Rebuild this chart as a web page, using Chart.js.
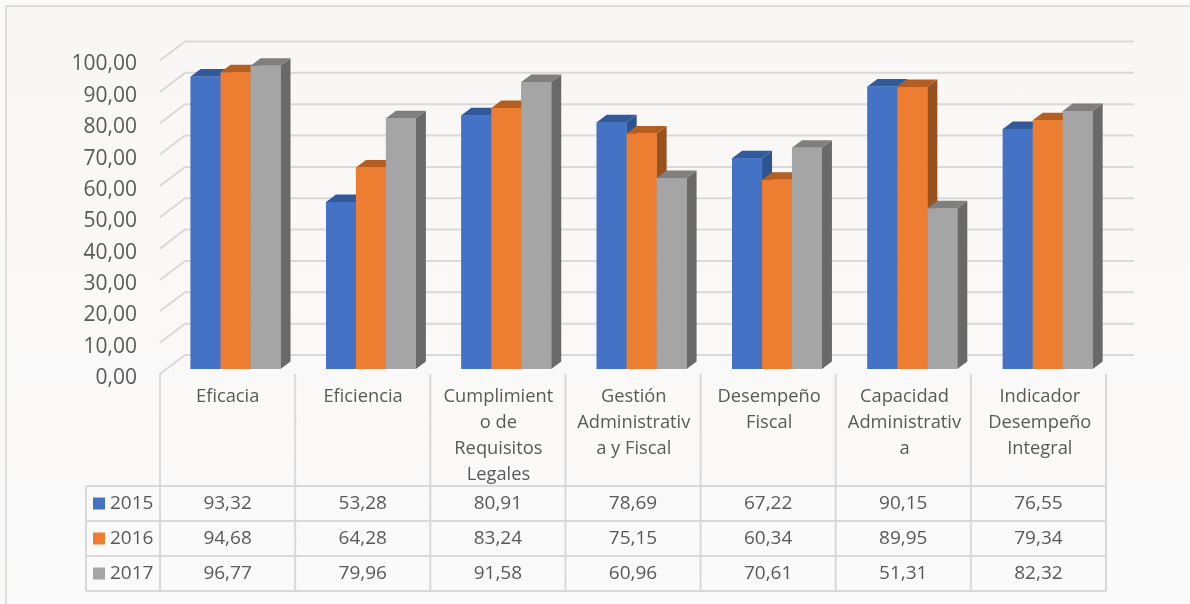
<!DOCTYPE html>
<html>
<head>
<meta charset="utf-8">
<title>Indicadores 2015-2017</title>
<script src="https://cdn.jsdelivr.net/npm/chart.js@4"></script>
<style>
  html, body { margin: 0; padding: 0; background: #fafaf9; overflow: hidden; }
  #wrap { position: relative; width: 1190px; height: 604px; }
  #frame { position: absolute; left: 5px; top: 5px; right: -4px; bottom: -4px;
           border: 2px solid #dedede; background: linear-gradient(#f8f7f5, #fbfafa); }
  canvas { position: absolute; left: 0; top: 0; }
</style>
</head>
<body>
<div id="wrap">
  <div id="frame"></div>
  <canvas id="canvas" width="1190" height="604"></canvas>
</div>
<script>
let categories = [
  ['Eficacia'],
  ['Eficiencia'],
  ['Cumplimient', 'o de', 'Requisitos', 'Legales'],
  ['Gestión', 'Administrativ', 'a y Fiscal'],
  ['Desempeño', 'Fiscal'],
  ['Capacidad', 'Administrativ', 'a'],
  ['Indicador', 'Desempeño', 'Integral']
];
let seriesNames = ['2015', '2016', '2017'];
let values2015 = [93.32, 53.28, 80.91, 78.69, 67.22, 90.15, 76.55];
let values2016 = [94.68, 64.28, 83.24, 75.15, 60.34, 89.95, 79.34];
let values2017 = [96.77, 79.96, 91.58, 60.96, 70.61, 51.31, 82.32];

let frontColors = ['#4472c4', '#ed7d31', '#a5a5a5'];
let topColors   = ['#325a9a', '#b55e22', '#7f7f7f'];
let sideColors  = ['#2e5490', '#97521d', '#696969'];

let textColor = '#595959';
let lineColor = '#d9d9d9';
let fontName = '"Open Sans", sans-serif';

// fake 3d: wall sits behind the front plane, bars sit a bit inside the floor
let wall = { dx: 25, dy: -19 };
let barShift = { dx: 7.9, dy: -5 };
let barDepth = { dx: 10, dy: -7.5 };

function fmt(v) {
  return v.toFixed(2).replace('.', ',');
}

function poly(ctx, color, pts) {
  ctx.fillStyle = color;
  ctx.beginPath();
  pts.forEach((p, i) => i ? ctx.lineTo(p[0], p[1]) : ctx.moveTo(p[0], p[1]));
  ctx.closePath();
  ctx.fill();
}

let wallGrid = {
  id: 'wallGrid',
  beforeDatasetsDraw(chart) {
    let ctx = chart.ctx, x = chart.scales.x, y = chart.scales.y;
    ctx.save();
    ctx.strokeStyle = lineColor;
    ctx.lineWidth = 2;
    y.ticks.forEach(t => {
      let py = y.getPixelForValue(t.value);
      ctx.beginPath();
      ctx.moveTo(x.left, py);
      ctx.lineTo(x.left + wall.dx, py + wall.dy);
      ctx.lineTo(x.right + wall.dx + 1.5, py + wall.dy);
      ctx.stroke();
    });
    ctx.restore();
    // bars are drawn shifted, see bars3d
    ctx.save();
    ctx.translate(barShift.dx, barShift.dy);
  }
};

let bars3d = {
  id: 'bars3d',
  afterDatasetsDraw(chart) {
    let ctx = chart.ctx;
    chart.data.datasets.forEach((ds, i) => {
      chart.getDatasetMeta(i).data.forEach(bar => {
        let l = bar.x - bar.width / 2, r = bar.x + bar.width / 2;
        let t = bar.y, b = bar.base, dx = barDepth.dx, dy = barDepth.dy;
        poly(ctx, sideColors[i], [[r, t], [r + dx, t + dy], [r + dx, b + dy], [r, b]]);
        poly(ctx, topColors[i], [[l, t], [l + dx, t + dy], [r + dx, t + dy], [r, t]]);
        bar.draw(ctx);
      });
    });
    ctx.restore();
  }
};

let dataTable = {
  id: 'dataTable',
  afterDraw(chart) {
    let ctx = chart.ctx, x = chart.scales.x;
    let rows = [486, 521, 556, 591];
    let tableLeft = 86;
    // table comes out a hair narrower than the bars above it
    let cellW = (x.right - x.left - 1.5) / categories.length;
    let tableRight = x.left + cellW * categories.length;
    ctx.save();
    ctx.strokeStyle = lineColor;
    ctx.lineWidth = 2;
    ctx.beginPath();
    rows.forEach(ry => { ctx.moveTo(tableLeft, ry); ctx.lineTo(tableRight, ry); });
    ctx.moveTo(tableLeft, rows[0]); ctx.lineTo(tableLeft, rows[3]);
    for (let i = 0; i <= categories.length; i++) {
      let vx = x.left + i * cellW;
      ctx.moveTo(vx, x.top);
      ctx.lineTo(vx, rows[3]);
    }
    ctx.stroke();

    ctx.font = '19px ' + fontName;
    ctx.textBaseline = 'middle';
    chart.data.datasets.forEach((ds, i) => {
      let midY = (rows[i] + rows[i + 1]) / 2;
      ctx.fillStyle = frontColors[i];
      ctx.fillRect(93, midY - 6, 12, 12);
      ctx.fillStyle = textColor;
      ctx.textAlign = 'left';
      ctx.fillText(seriesNames[i], 110, midY);
      ctx.textAlign = 'center';
      ds.data.forEach((v, j) => {
        ctx.fillText(fmt(v), x.left + (j + 0.5) * cellW, midY);
      });
    });
    ctx.restore();
  }
};

let chart = new Chart(document.getElementById('canvas'), {
  type: 'bar',
  data: {
    labels: categories,
    datasets: seriesNames.map((name, i) => ({
      label: name,
      data: [values2015, values2016, values2017][i],
      backgroundColor: frontColors[i],
      categoryPercentage: 0.664,
      barPercentage: 1.0,
      clip: false
    }))
  },
  options: {
    responsive: false,
    animation: false,
    layout: { padding: { top: 60.5, right: 82.5, bottom: 0, left: 0 } },
    plugins: {
      legend: { display: false },
      title: { display: false },
      tooltip: { enabled: false }
    },
    scales: {
      y: {
        min: 0,
        max: 100,
        ticks: {
          stepSize: 10,
          padding: 15,
          labelOffset: 4,
          color: textColor,
          font: { family: fontName, size: 21 },
          callback: v => fmt(v)
        },
        grid: { display: false },
        border: { display: false },
        afterFit(scale) { scale.width = 160; }
      },
      x: {
        ticks: {
          autoSkip: false,
          maxRotation: 0,
          padding: 2,
          color: textColor,
          font: { family: fontName, size: 18.3, lineHeight: 1.42 }
        },
        grid: { display: false },
        border: { display: false },
        afterFit(scale) { scale.height = 230; }
      }
    }
  },
  plugins: [wallGrid, bars3d, dataTable]
});
</script>
</body>
</html>
